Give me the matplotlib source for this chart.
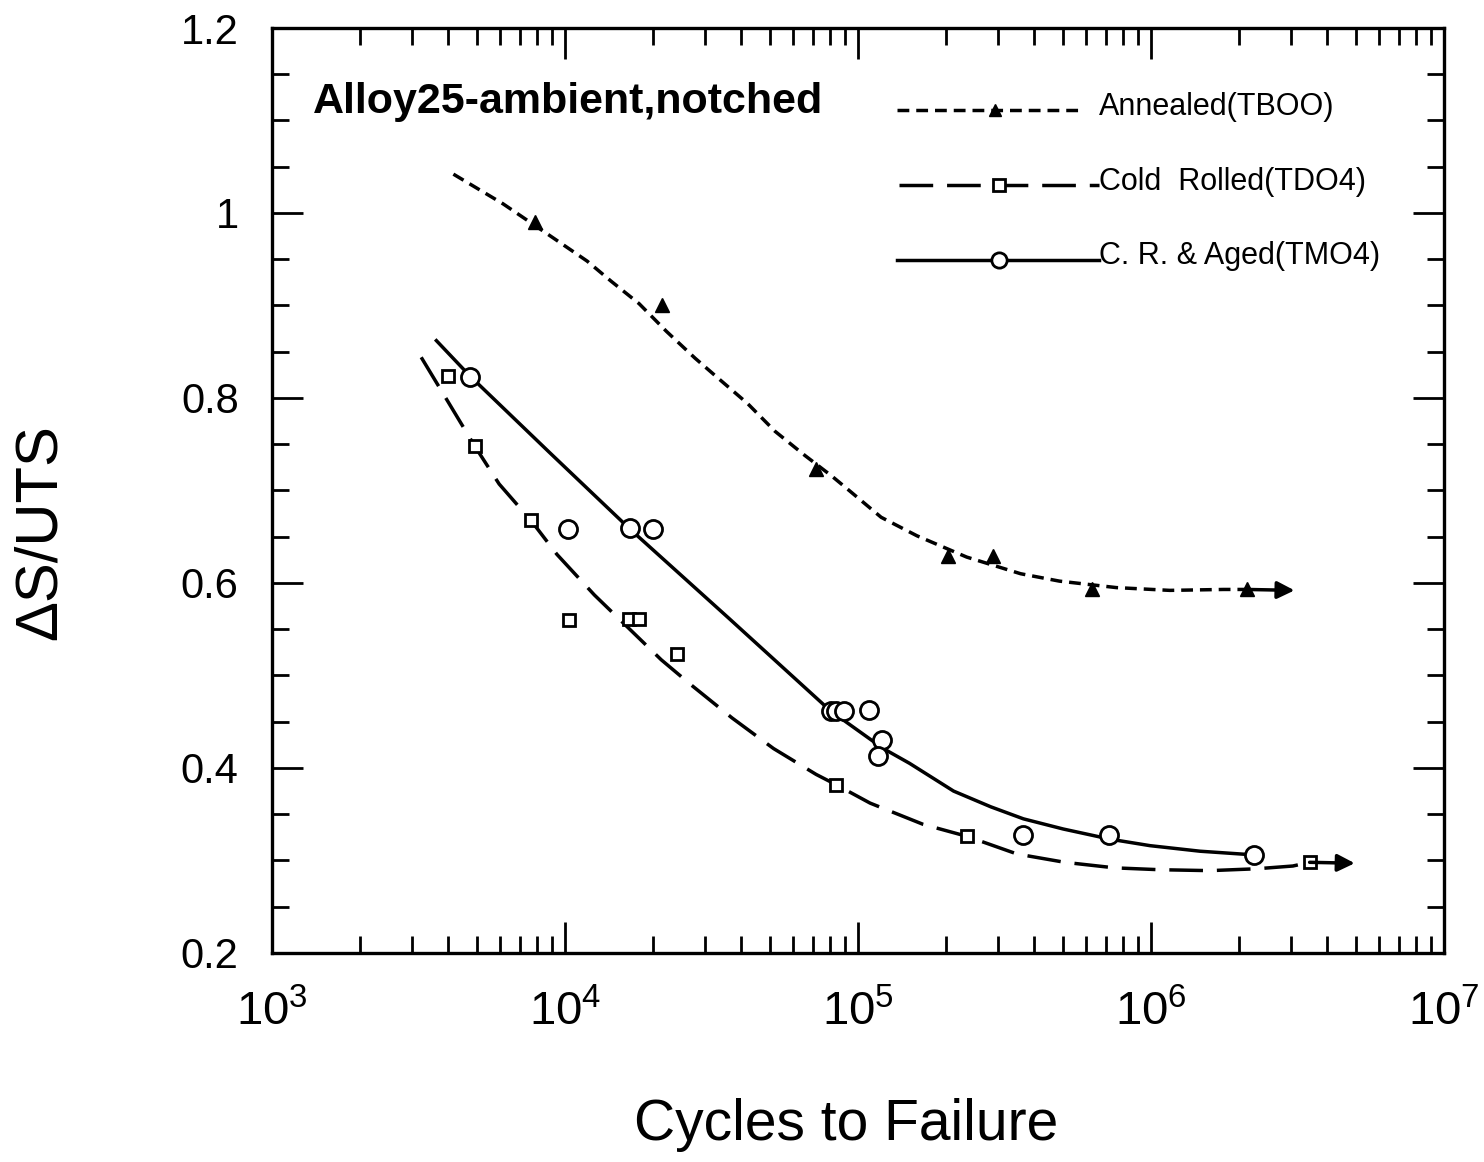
import matplotlib.pyplot as plt
import numpy as np
from matplotlib.ticker import LogLocator, MultipleLocator, FixedLocator, FixedFormatter, NullFormatter

plt.rcParams['font.family'] = ['Liberation Sans', 'DejaVu Sans']
plt.rcParams['mathtext.fontset'] = 'custom'
plt.rcParams['mathtext.rm'] = 'Liberation Sans'
plt.rcParams['mathtext.it'] = 'Liberation Sans:italic'
plt.rcParams['mathtext.bf'] = 'Liberation Sans:bold'

# Annealed (TB00): test points, fitted curve, run-out arrow
ann_x = [7900, 21400, 72000, 203000, 289000, 627000, 2.12e6]
ann_y = [0.990, 0.900, 0.723, 0.629, 0.629, 0.593, 0.593]
ann_fit_x = [4160, 6140, 9120, 11900, 14400, 17900, 22200, 27800, 34000, 42000,
             52100, 65800, 81100, 91700, 120000, 159000, 235000, 359000,
             487000, 762000, 1.16e6, 1.77e6, 2.12e6]
ann_fit_y = [1.042, 1.010, 0.973, 0.948, 0.926, 0.902, 0.872, 0.843, 0.819,
             0.794, 0.764, 0.738, 0.716, 0.702, 0.671, 0.651, 0.628, 0.610,
             0.602, 0.595, 0.592, 0.593, 0.593]
ann_runout = (3.09e6, 0.592)

# Cold Rolled (TD04)
cr_x = [3980, 4920, 7670, 10300, 16500, 17900, 24200, 84100, 236000, 3.48e6]
cr_y = [0.824, 0.748, 0.668, 0.560, 0.561, 0.561, 0.523, 0.382, 0.326, 0.298]
cr_fit_x = [3230, 3970, 4920, 5960, 7680, 9380, 12600, 15900, 21300, 26900,
            37200, 51500, 72000, 84100, 110000, 167000, 236000, 349000,
            508000, 752000, 1.07e6, 1.59e6, 2.29e6, 3.05e6, 3.48e6]
cr_fit_y = [0.844, 0.797, 0.748, 0.707, 0.667, 0.631, 0.587, 0.556, 0.517,
            0.490, 0.454, 0.421, 0.393, 0.382, 0.362, 0.339, 0.326, 0.307,
            0.298, 0.292, 0.290, 0.289, 0.291, 0.294, 0.298]
cr_runout = (4.96e6, 0.297)

# C. R. & Aged (TM04)
age_x = [4730, 10200, 16700, 20000, 81100, 84300, 89700, 109000, 121000,
         117000, 366000, 720000, 2.25e6]
age_y = [0.823, 0.658, 0.659, 0.658, 0.462, 0.462, 0.462, 0.463, 0.430,
         0.413, 0.328, 0.327, 0.306]
age_fit_x = [3640, 4730, 8860, 16700, 36200, 80400, 122000, 150000, 212000,
             284000, 367000, 502000, 726000, 993000, 1.47e6, 2.25e6]
age_fit_y = [0.862, 0.824, 0.741, 0.658, 0.562, 0.462, 0.421, 0.405, 0.375,
             0.358, 0.345, 0.334, 0.323, 0.316, 0.310, 0.306]

ytick_vals = [0.2, 0.4, 0.6, 0.8, 1.0, 1.2]
ytick_labels = ['0.2', '0.4', '0.6', '0.8', '1', '1.2']

LW = 2.5
SHORT = (3.4, 2.0)
LONG = (9.7, 4.0)

fig = plt.figure(figsize=(14.84, 11.62), dpi=100)
ax = fig.add_axes([0.1833, 0.1799, 0.7897, 0.7960])
ax.set_xscale('log')
ax.set_xlim(1e3, 1e7)
ax.set_ylim(0.2, 1.2)

# fitted curves
ax.plot(ann_fit_x, ann_fit_y, color='k', lw=LW, dashes=SHORT)
ax.plot(cr_fit_x, cr_fit_y, color='k', lw=LW, dashes=LONG)
ax.plot(age_fit_x, age_fit_y, color='k', lw=LW)

# data points
ax.plot(ann_x, ann_y, '^', color='k', ms=10, ls='none')
ax.plot(cr_x, cr_y, 's', mfc='white', mec='k', mew=2, ms=9, ls='none')
ax.plot(age_x, age_y, 'o', mfc='white', mec='k', mew=2, ms=13, ls='none')

# run-outs
arrow = dict(arrowstyle='-|>', color='k', lw=LW, mutation_scale=26,
             shrinkA=0, shrinkB=0)
ax.annotate('', xy=ann_runout, xytext=(ann_x[-1], ann_y[-1]), arrowprops=arrow)
ax.annotate('', xy=cr_runout, xytext=(cr_x[-1], cr_y[-1]), arrowprops=arrow)

# axes, ticks
ax.xaxis.set_major_locator(LogLocator(base=10, numticks=10))
ax.xaxis.set_minor_locator(LogLocator(base=10, subs=np.arange(2, 10), numticks=100))
ax.xaxis.set_minor_formatter(NullFormatter())
ax.yaxis.set_major_locator(FixedLocator(ytick_vals))
ax.yaxis.set_major_formatter(FixedFormatter(ytick_labels))
ax.yaxis.set_minor_locator(MultipleLocator(0.05))
ax.tick_params(which='both', direction='in', top=True, right=True, width=2, colors='k')
ax.tick_params(which='major', length=22)
ax.tick_params(which='minor', length=12)
ax.tick_params(axis='x', which='major', labelsize=34, pad=27)
ax.tick_params(axis='y', which='major', labelsize=30, pad=24)
for s in ax.spines.values():
    s.set_linewidth(2.4)

ax.set_xlabel('Cycles to Failure', fontsize=41, va='top')
ax.xaxis.set_label_coords(0.49, -0.157)
ax.set_ylabel('ΔS/UTS', fontsize=43)
ax.yaxis.set_label_coords(-0.174, 0.455)

ax.text(0.035, 0.92, 'Alloy25-ambient,notched', transform=ax.transAxes,
        fontsize=31, fontweight='bold', va='center', ha='left')

# key
tr = ax.transAxes
ax.plot([0.533, 0.692], [0.911, 0.911], transform=tr, color='k', lw=LW, dashes=SHORT)
ax.plot([0.617], [0.911], '^', transform=tr, color='k', ms=9)
ax.text(0.706, 0.915, 'Annealed(TBOO)', transform=tr, fontsize=22, va='center')

ax.plot([0.535, 0.706], [0.830, 0.830], transform=tr, color='k', lw=LW, dashes=LONG)
ax.plot([0.620], [0.830], 's', transform=tr, mfc='white', mec='k', mew=2, ms=8)
ax.text(0.706, 0.834, 'Cold  Rolled(TDO4)', transform=tr, fontsize=22, va='center')

ax.plot([0.533, 0.706], [0.749, 0.749], transform=tr, color='k', lw=LW)
ax.plot([0.620], [0.749], 'o', transform=tr, mfc='white', mec='k', mew=2, ms=11)
ax.text(0.706, 0.754, 'C. R. & Aged(TMO4)', transform=tr, fontsize=22, va='center')

fig.savefig('out.png', dpi=100)
